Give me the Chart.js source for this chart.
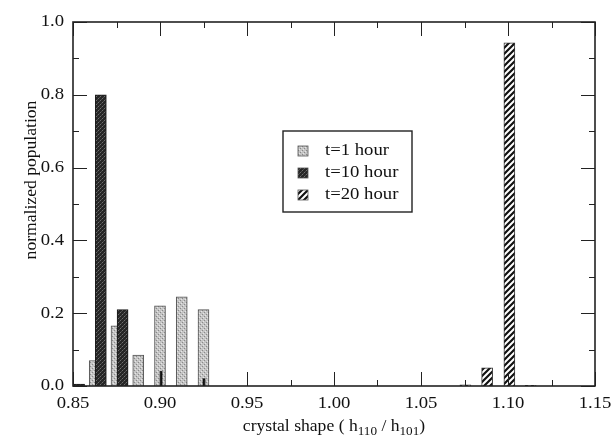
<!DOCTYPE html>
<html>
<head>
<meta charset="utf-8">
<script src="https://cdn.jsdelivr.net/npm/chart.js@4.4.0/dist/chart.umd.min.js"></script>
<style>
  html, body { margin: 0; padding: 0; background: #fff; }
  #wrap { width: 614px; height: 439px; }
</style>
</head>
<body>
<div id="wrap"><canvas id="chart" width="614" height="439"></canvas></div>
<script>
// Values. Bar positions are where each bar sits on the x axis.
const t1Shape = [0.8625, 0.875, 0.8875, 0.9, 0.9125, 0.925];
const t1Pop = [0.07, 0.165, 0.085, 0.22, 0.245, 0.21];
const t10Shape = [0.8535, 0.866, 0.8785];
const t10Pop = [0.005, 0.80, 0.21];
const t20Shape = [1.0755, 1.088, 1.1008, 1.113];
const t20Pop = [0.003, 0.05, 0.943, 0.002];
// thin dark marks inside two of the t=1 bars
const markShape = [0.9006, 0.9253];
const markPop = [0.04, 0.02];

const xTicks = [0.85, 0.90, 0.95, 1.00, 1.05, 1.10, 1.15];
const xMinor = [0.875, 0.925, 0.975, 1.025, 1.075, 1.125];
const yTicks = [0.0, 0.2, 0.4, 0.6, 0.8, 1.0];
const yMinor = [0.1, 0.3, 0.5, 0.7, 0.9];

const FONT = '"Liberation Serif", "Times New Roman", serif';
const STRETCH = 1.1;

const canvas = document.getElementById('chart');
const mainCtx = canvas.getContext('2d');

// Fill patterns
function makePattern(size, draw) {
    const c = document.createElement('canvas');
    c.width = c.height = size;
    const g = c.getContext('2d');
    draw(g, size);
    return mainCtx.createPattern(c, 'repeat');
}

const lightFill = makePattern(4, (g, s) => {
    g.fillStyle = '#c4c4c4';
    g.fillRect(0, 0, s, s);
    g.fillStyle = '#8a8a8a';
    g.fillRect(0, 0, 1, 1);
    g.fillRect(2, 2, 1, 1);
    g.fillStyle = '#e6e6e6';
    g.fillRect(1, 3, 1, 1);
    g.fillRect(3, 1, 1, 1);
});

const darkFill = makePattern(4, (g, s) => {
    g.fillStyle = '#262626';
    g.fillRect(0, 0, s, s);
    g.fillStyle = '#6e6e6e';
    g.fillRect(0, 0, 1, 1);
    g.fillRect(2, 2, 1, 1);
    g.fillStyle = '#4a4a4a';
    g.fillRect(1, 3, 1, 1);
    g.fillRect(3, 1, 1, 1);
});

const hatchFill = makePattern(6, (g, s) => {
    g.fillStyle = '#ffffff';
    g.fillRect(0, 0, s, s);
    g.strokeStyle = '#111111';
    g.lineWidth = 2.2;
    g.beginPath();
    g.moveTo(-1, s + 1); g.lineTo(s + 1, -1);
    g.moveTo(-1, 1); g.lineTo(1, -1);
    g.moveTo(s - 1, s + 1); g.lineTo(s + 1, s - 1);
    g.stroke();
});

const toPoints = (xs, ys) => xs.map((x, i) => ({ x: x, y: ys[i] }));

// Draw text widened a bit like the original typeface
function drawText(ctx, text, x, y, align) {
    ctx.save();
    ctx.translate(x, y);
    ctx.scale(STRETCH, 1);
    ctx.textAlign = align;
    ctx.fillText(text, 0, 0);
    ctx.restore();
}

// Frame, inward ticks, labels, titles and legend box
const framePlugin = {
    id: 'frame',
    afterDatasetsDraw(chart) {
        const ctx = chart.ctx;
        const a = chart.chartArea;
        const xs = chart.scales.x;
        const ys = chart.scales.y;

        ctx.save();
        ctx.strokeStyle = '#222';
        ctx.lineWidth = 1;

        // x ticks, bottom and top
        const xTick = (v, len) => {
            const px = Math.round(xs.getPixelForValue(v)) + 0.5;
            ctx.beginPath();
            ctx.moveTo(px, a.bottom); ctx.lineTo(px, a.bottom - len);
            ctx.moveTo(px, a.top); ctx.lineTo(px, a.top + len);
            ctx.stroke();
        };
        xTicks.forEach(v => xTick(v, 14));
        xMinor.forEach(v => xTick(v, 6));

        const yTick = (v, len) => {
            const py = Math.round(ys.getPixelForValue(v)) + 0.5;
            ctx.beginPath();
            ctx.moveTo(a.left, py); ctx.lineTo(a.left + len, py);
            ctx.moveTo(a.right, py); ctx.lineTo(a.right - len, py);
            ctx.stroke();
        };
        yTicks.forEach(v => yTick(v, 14));
        yMinor.forEach(v => yTick(v, 6));

        ctx.lineWidth = 1.6;
        ctx.strokeRect(a.left, a.top, a.right - a.left, a.bottom - a.top);

        // tick labels
        ctx.fillStyle = '#111';
        ctx.font = '17px ' + FONT;
        ctx.textBaseline = 'middle';
        xTicks.forEach(v => {
            drawText(ctx, v.toFixed(2), xs.getPixelForValue(v), a.bottom + 18, 'center');
        });
        yTicks.forEach(v => {
            drawText(ctx, v.toFixed(1), a.left - 9, ys.getPixelForValue(v), 'right');
        });

        // y title
        ctx.save();
        ctx.translate(32, 180);
        ctx.rotate(-Math.PI / 2);
        ctx.font = '16px ' + FONT;
        drawText(ctx, 'normalized population', 0, 0, 'center');
        ctx.restore();

        // x title with subscripts
        const parts = [
            { t: 'crystal shape ( h', sub: false },
            { t: '110', sub: true },
            { t: ' / h', sub: false },
            { t: '101', sub: true },
            { t: ')', sub: false }
        ];
        ctx.textBaseline = 'alphabetic';
        const fontOf = p => (p.sub ? '12px ' : '16px ') + FONT;
        let total = 0;
        parts.forEach(p => { ctx.font = fontOf(p); total += ctx.measureText(p.t).width * STRETCH; });
        let cx = (a.left + a.right) / 2 - total / 2;
        parts.forEach(p => {
            ctx.font = fontOf(p);
            drawText(ctx, p.t, cx, p.sub ? 435 : 431, 'left');
            cx += ctx.measureText(p.t).width * STRETCH;
        });

        // legend box
        const box = { left: 283, top: 131, right: 412, bottom: 212 };
        ctx.lineWidth = 1.4;
        ctx.strokeStyle = '#222';
        ctx.fillStyle = '#fff';
        ctx.fillRect(box.left, box.top, box.right - box.left, box.bottom - box.top);
        ctx.strokeRect(box.left, box.top, box.right - box.left, box.bottom - box.top);

        ctx.font = '17px ' + FONT;
        ctx.textBaseline = 'middle';
        const entries = chart.data.datasets.filter(d => d.showInLegend !== false);
        entries.forEach((d, i) => {
            const cy = 151 + i * 22;
            ctx.fillStyle = d.backgroundColor;
            ctx.fillRect(298, cy - 5, 10, 10);
            ctx.lineWidth = 0.8;
            ctx.strokeStyle = '#555';
            ctx.strokeRect(298, cy - 5, 10, 10);
            ctx.fillStyle = '#111';
            drawText(ctx, d.label, 325, cy, 'left');
        });

        ctx.restore();
    }
};

new Chart(canvas, {
    type: 'bar',
    data: {
        datasets: [
            {
                label: 't=1 hour',
                data: toPoints(t1Shape, t1Pop),
                backgroundColor: lightFill,
                borderColor: '#555',
                borderWidth: 1,
                order: 4
            },
            {
                label: 't=10 hour',
                data: toPoints(t10Shape, t10Pop),
                backgroundColor: darkFill,
                borderColor: '#1a1a1a',
                borderWidth: 1,
                order: 3
            },
            {
                label: 't=20 hour',
                data: toPoints(t20Shape, t20Pop),
                backgroundColor: hatchFill,
                borderColor: '#333',
                borderWidth: 1,
                order: 2
            },
            {
                label: 'marks',
                showInLegend: false,
                data: toPoints(markShape, markPop),
                backgroundColor: '#111',
                borderWidth: 0,
                barThickness: 2,
                order: 1
            }
        ]
    },
    options: {
        responsive: false,
        animation: false,
        datasets: {
            bar: { grouped: false, barThickness: 11, borderSkipped: 'start' }
        },
        layout: { padding: { left: 73, right: 19, top: 22, bottom: 53 } },
        plugins: {
            legend: { display: false },
            tooltip: { enabled: false }
        },
        scales: {
            x: { type: 'linear', min: 0.85, max: 1.15, offset: false, display: false },
            y: { min: 0, max: 1, display: false }
        }
    },
    plugins: [framePlugin]
});
</script>
</body>
</html>
